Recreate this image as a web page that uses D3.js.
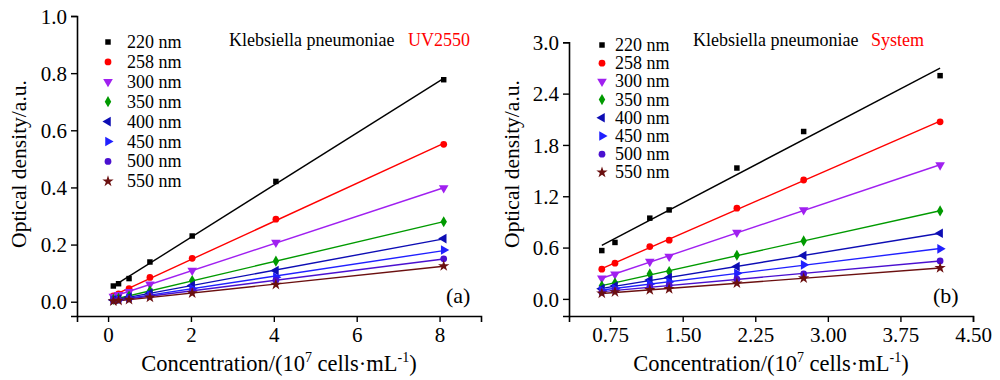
<!DOCTYPE html>
<html><head><meta charset="utf-8">
<script src="https://cdn.jsdelivr.net/npm/d3@7"></script>
</head>
<body style="margin:0;background:#fff">
<svg id="c" width="1000" height="380"></svg>
<script>
// ---------- data ----------
const seriesNames = ["220 nm","258 nm","300 nm","350 nm","400 nm","450 nm","500 nm","550 nm"];
const seriesColors = ["#000000","#ff0000","#a020f0","#009a00","#0d0db4","#2020ff","#4a10d0","#6b1010"];
const seriesSymbols = ["square","circle","down","diamond","left","right","circle","star"];

// Panel (a) UV2550
const xA = [0.127, 0.253, 0.506, 1.01, 2.03, 4.05, 8.1];
const a220 = [0.055, 0.063, 0.081, 0.139, 0.230, 0.421, 0.777];
const a258 = [0.020, 0.027, 0.046, 0.085, 0.152, 0.289, 0.551];
const a300 = [0.018, 0.024, 0.035, 0.061, 0.109, 0.207, 0.398];
const a350 = [0.008, 0.012, 0.020, 0.038, 0.074, 0.142, 0.280];
const a400 = [0.006, 0.009, 0.016, 0.030, 0.057, 0.109, 0.221];
const a450 = [0.005, 0.007, 0.013, 0.023, 0.045, 0.086, 0.181];
const a500 = [0.004, 0.006, 0.010, 0.020, 0.038, 0.075, 0.150];
const a550 = [0.002, 0.004, 0.007, 0.015, 0.030, 0.060, 0.125];

// Panel (b) System
const xB = [0.664, 0.80, 1.16, 1.36, 2.06, 2.75, 4.16];
const b220 = [0.565, 0.660, 0.944, 1.040, 1.530, 1.957, 2.610];
const b258 = [0.347, 0.417, 0.612, 0.686, 1.060, 1.390, 2.070];
const b300 = [0.242, 0.289, 0.436, 0.495, 0.776, 1.040, 1.564];
const b350 = [0.152, 0.187, 0.292, 0.320, 0.510, 0.678, 1.029];
const b400 = [0.120, 0.150, 0.220, 0.250, 0.378, 0.507, 0.768];
const b450 = [0.100, 0.120, 0.175, 0.200, 0.300, 0.398, 0.585];
const b500 = [0.080, 0.100, 0.140, 0.160, 0.230, 0.292, 0.444];
const b550 = [0.065, 0.080, 0.105, 0.117, 0.183, 0.242, 0.363];

const ticksXA = [0, 2, 4, 6, 8];
const ticksYA = [0.0, 0.2, 0.4, 0.6, 0.8, 1.0];
const ticksXB = [0.75, 1.50, 2.25, 3.00, 3.75, 4.50];
const ticksYB = [0.0, 0.6, 1.2, 1.8, 2.4, 3.0];

// ---------- drawing ----------
const FONT = "Liberation Serif";
const svg = d3.select("#c").style("font-family", FONT);

function txt(sel){ return sel.append("text").style("font-family", FONT).attr("fill", "#000"); }

function symPath(kind){
  const m = {
    square: [d3.symbolSquare, 30, 0],
    circle: [d3.symbolCircle, 36, 0],
    down:   [d3.symbolTriangle, 40, 180],
    left:   [d3.symbolTriangle, 40, -90],
    right:  [d3.symbolTriangle, 40, 90],
    diamond:[d3.symbolDiamond, 36, 0],
    star:   [d3.symbolStar, 40, 0]
  }[kind];
  return {d: d3.symbol().type(m[0]).size(m[1])(), rot: m[2]};
}

function fit(xs, ys){
  const n = xs.length, mx = d3.mean(xs), my = d3.mean(ys);
  let sxy = 0, sxx = 0;
  for (let i = 0; i < n; i++){ sxy += (xs[i]-mx)*(ys[i]-my); sxx += (xs[i]-mx)**2; }
  const b = sxy/sxx; return [my - b*mx, b];
}

function panel(cfg){
  const g = svg.append("g");
  const x = d3.scaleLinear().domain(cfg.xDomain).range(cfg.xRange);
  const y = d3.scaleLinear().domain(cfg.yDomain).range(cfg.yRange);

  const ax = g.append("g").attr("transform", `translate(0,${cfg.yRange[0]})`)
    .call(d3.axisBottom(x).tickValues(cfg.xTicks).tickFormat(cfg.xFmt).tickSizeOuter(0).tickSize(6).tickPadding(5));
  const ay = g.append("g").attr("transform", `translate(${cfg.xRange[0]},0)`)
    .call(d3.axisLeft(y).tickValues(cfg.yTicks).tickFormat(d3.format(".1f")).tickSizeOuter(0).tickSize(6).tickPadding(4));
  [ax, ay].forEach(a => {
    a.attr("font-family", null).style("font-family", FONT);
    a.select(".domain").attr("stroke", "#000").attr("stroke-width", 1.6);
    a.selectAll(".tick line").attr("stroke", "#000").attr("stroke-width", 1.4);
    a.selectAll(".tick text").style("font-family", FONT).attr("font-size", 21).attr("fill", "#000");
  });
  ay.selectAll(".tick text").attr("dy", "0.34em");

  cfg.series.forEach((ys, i) => {
    const [a, b] = fit(cfg.xs, ys);
    const x0 = d3.min(cfg.xs), x1 = d3.max(cfg.xs);
    g.append("line")
      .attr("x1", x(x0)).attr("y1", y(a + b*x0))
      .attr("x2", x(x1)).attr("y2", y(a + b*x1))
      .attr("stroke", seriesColors[i]).attr("stroke-width", 1.4);
  });
  cfg.series.forEach((ys, i) => {
    const s = symPath(seriesSymbols[i]);
    g.append("g").selectAll("path").data(ys).join("path")
      .attr("d", s.d)
      .attr("transform", (d, j) => `translate(${x(cfg.xs[j])},${y(d)}) rotate(${s.rot})`)
      .attr("fill", seriesColors[i]);
  });

  // legend
  seriesNames.forEach((nm, i) => {
    const yy = cfg.legY + i*cfg.legStep;
    const s = symPath(seriesSymbols[i]);
    g.append("path").attr("d", s.d)
      .attr("transform", `translate(${cfg.legX},${yy}) rotate(${s.rot})`)
      .attr("fill", seriesColors[i]);
    txt(g).attr("x", cfg.legX + cfg.legGap).attr("y", yy + 6)
      .attr("font-size", 18).text(nm);
  });

  // annotation
  const t = txt(g).attr("x", cfg.annX).attr("y", 46).attr("font-size", 18);
  t.append("tspan").text("Klebsiella pneumoniae");
  t.append("tspan").attr("x", cfg.annX2).attr("fill", "#ff0000").attr("font-size", 18).text(cfg.annRed);

  // panel label
  txt(g).attr("x", cfg.labX).attr("y", 303).attr("font-size", 22).text(cfg.lab);

  // axis titles
  const xt = txt(g).attr("x", cfg.xTitleX).attr("y", 371).attr("text-anchor", "middle").attr("font-size", 22.5);
  xt.append("tspan").text("Concentration/(10");
  xt.append("tspan").attr("dy", -9).attr("font-size", 14).text("7");
  xt.append("tspan").attr("dy", 9).text(" cells·mL");
  xt.append("tspan").attr("dy", -9).attr("font-size", 14).text("-1");
  xt.append("tspan").attr("dy", 9).text(")");

  txt(g).attr("transform", `translate(${cfg.yTitleX},164) rotate(-90)`)
    .attr("text-anchor", "middle").attr("font-size", 21.5).text("Optical density/a.u.");
}

panel({
  xs: xA, series: [a220,a258,a300,a350,a400,a450,a500,a550],
  xDomain: [-0.75, 9], xRange: [77, 481],
  yDomain: [-0.05, 1.0], yRange: [316, 16],
  xTicks: ticksXA, yTicks: ticksYA, xFmt: d3.format("d"),
  legX: 108, legGap: 19, legY: 42, legStep: 19.9,
  annX: 229, annX2: 408, annRed: "UV2550",
  labX: 446, lab: "(a)", xTitleX: 279, yTitleX: 26
});
panel({
  xs: xB, series: [b220,b258,b300,b350,b400,b450,b500,b550],
  xDomain: [0.325, 4.5], xRange: [569, 973],
  yDomain: [-0.2, 3.0], yRange: [316, 42.3],
  xTicks: ticksXB, yTicks: ticksYB, xFmt: d3.format(".2f"),
  legX: 602, legGap: 13, legY: 45, legStep: 18.2,
  annX: 693, annX2: 871, annRed: "System",
  labX: 933, lab: "(b)", xTitleX: 771, yTitleX: 519
});
</script></body></html>
